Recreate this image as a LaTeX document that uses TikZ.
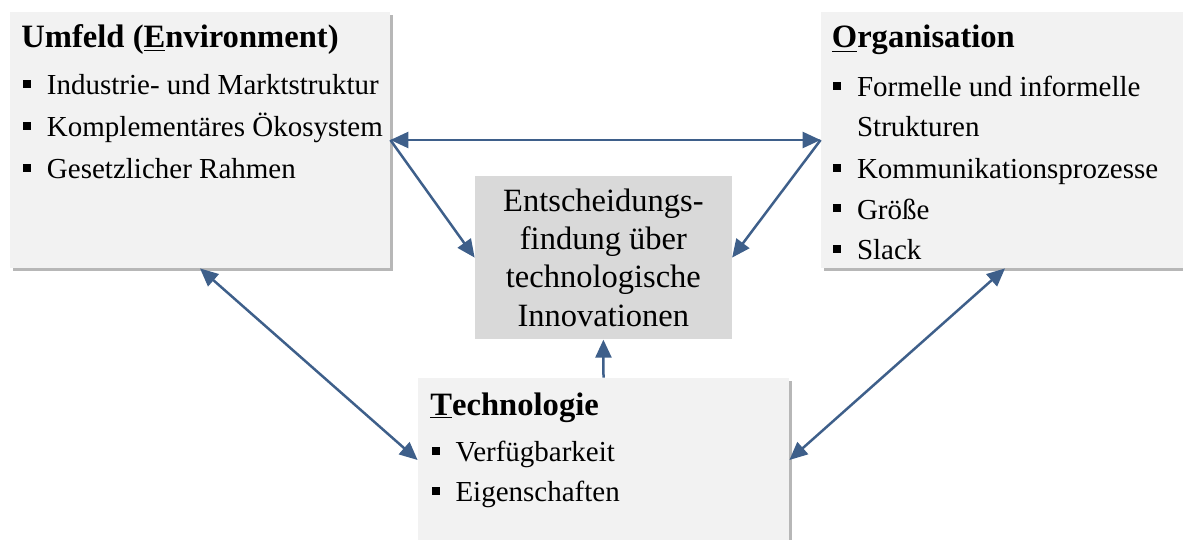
\documentclass[tikz,border=0pt]{standalone}
\usepackage{fontspec}
\setmainfont{Liberation Serif}
\usetikzlibrary{shadows,arrows.meta}
\definecolor{arrowblue}{HTML}{3E5F8A}
\definecolor{boxlight}{HTML}{F2F2F2}
\definecolor{boxmid}{HTML}{D9D9D9}
\newcommand{\bul}{\rule[3.5pt]{4pt}{4pt}\hspace{7.8pt}}
\tikzset{
  panel/.style={fill=boxlight, draw=none, inner sep=0pt,
    drop shadow={shadow xshift=1.6pt, shadow yshift=-1.6pt, fill=black!40, opacity=0.7}},
  centerbox/.style={fill=boxmid, draw=none, inner sep=0pt, align=center,
    font=\fontsize{16.25pt}{19.15pt}\selectfont},
  ttl/.style={anchor=base west, inner sep=0pt, font=\fontsize{16.3pt}{19pt}\selectfont\bfseries},
  itm/.style={anchor=base west, inner sep=0pt, font=\fontsize{14.5pt}{17pt}\selectfont},
  link/.style={draw=arrowblue, line width=1.25pt},
  tip/.style={-{Triangle[length=9pt,width=8pt]}},
  tips/.style={{Triangle[length=9pt,width=8pt]}-{Triangle[length=9pt,width=8pt]}}
}
\begin{document}
\begin{tikzpicture}[x=0.5pt,y=-0.5pt]
\useasboundingbox (0,0) rectangle (1183,540);
\clip (0,0) rectangle (1183,540);
% boxes
\node[panel, minimum width=190pt, minimum height=128pt] (U) at (200,140) {};
\node[panel, minimum width=184pt, minimum height=128pt] (O) at (1005,140) {};
\node[panel, minimum width=185.5pt, minimum height=82pt] (T) at (603.5,460) {};
\node[centerbox, minimum width=128.35pt, minimum height=81.65pt] (C) at (603.4,257.6)
  {Entscheidungs-\\findung über\\technologische\\Innovationen};
% Umfeld text
\node[ttl] (Ut) at (21,48) {Umfeld (\underline{E}nvironment)};
\node[itm] (U1) at (23,95) {\bul Industrie- und Marktstruktur};
\node[itm] (U2) at (23,137) {\bul Komplementäres Ökosystem};
\node[itm] (U3) at (23,178.5) {\bul Gesetzlicher Rahmen};
% Organisation text
\node[ttl] (Ot) at (831.5,48) {\underline{O}rganisation};
\node[itm] (O1) at (833,96.7) {\bul Formelle und informelle};
\node[itm] (O1b) at (856.7,137) {Strukturen};
\node[itm] (O2) at (833,178.5) {\bul Kommunikationsprozesse};
\node[itm] (O3) at (833,219) {\bul Größe};
\node[itm] (O4) at (833,259.5) {\bul Slack};
% Technologie text
\node[ttl] (Tt) at (430,415) {\underline{T}echnologie};
\node[itm] (T1) at (431.5,461.7) {\bul Verfügbarkeit};
\node[itm] (T2) at (431.5,501.7) {\bul Eigenschaften};
% connectors
\draw[link, tips] (U.east) -- (O.west);
\draw[link, tip] (U.east) -- (C.west);
\draw[link, tip] (O.west) -- (C.east);
\draw[link, tips] (U.south) -- (T.west);
\draw[link, tips] (O.south) -- (T.east);
\draw[link, tip] (T.north) -- (C.south);
\end{tikzpicture}
\end{document}
